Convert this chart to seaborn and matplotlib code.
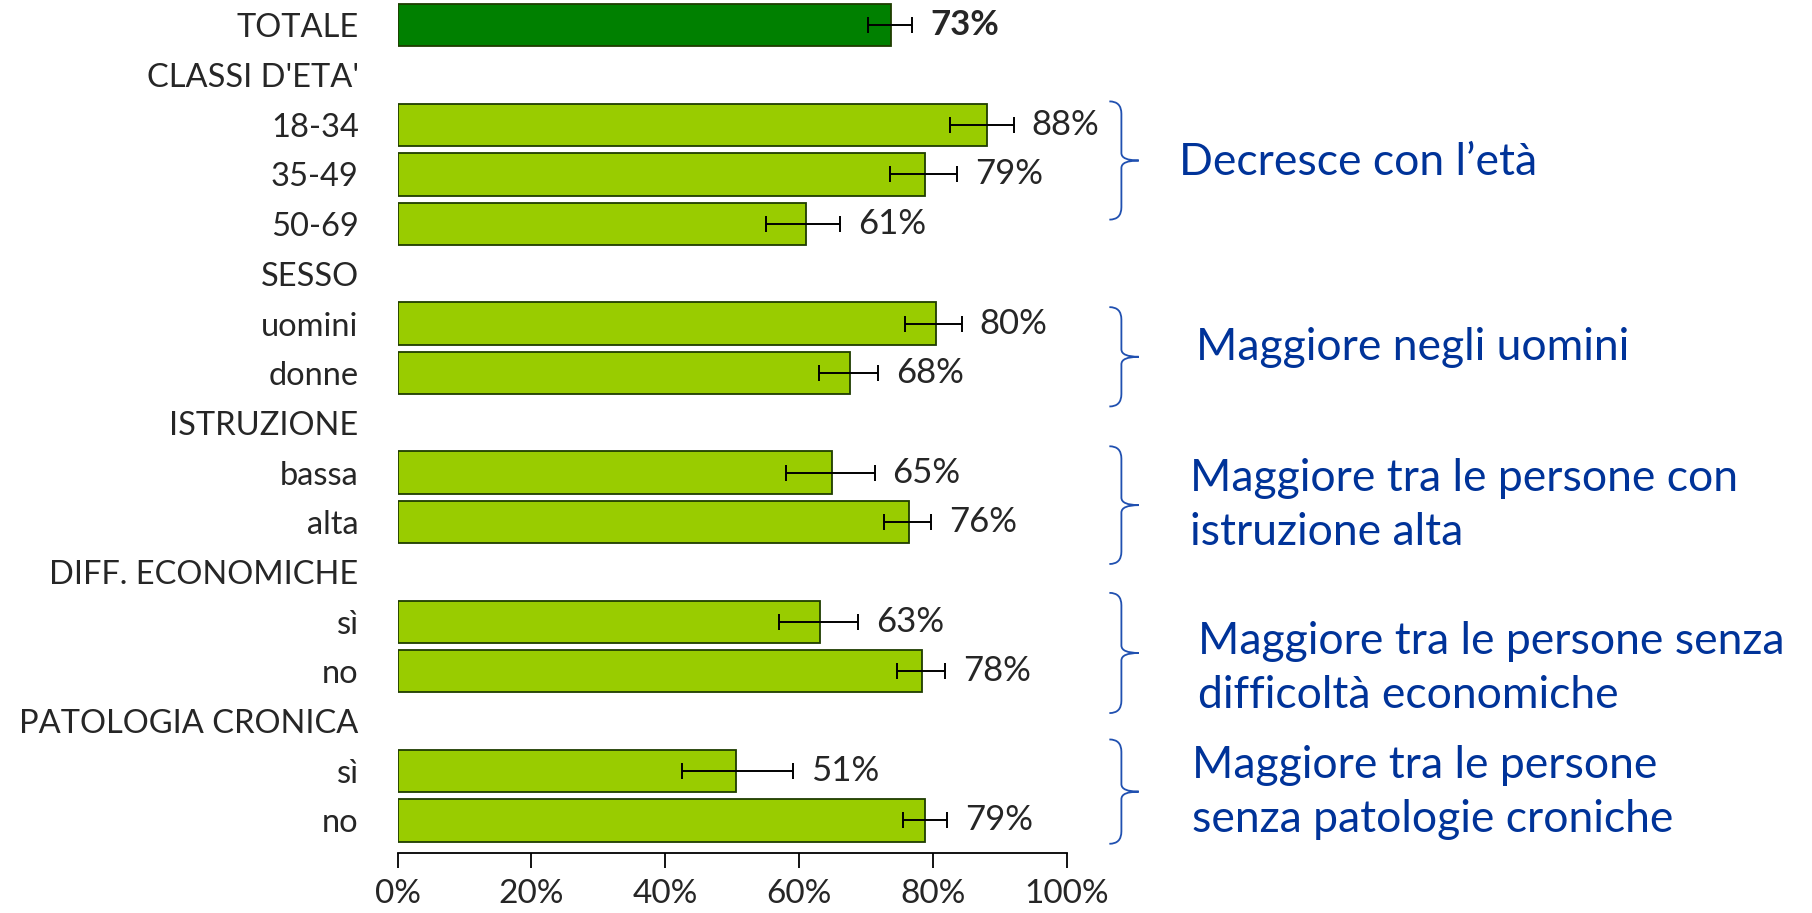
import numpy as np
import pandas as pd
import seaborn as sns
import matplotlib.pyplot as plt
from matplotlib.path import Path
from matplotlib.patches import PathPatch
import matplotlib.transforms as mtransforms

# rows of the chart, top to bottom (headers have no value)
row_keys = ["tot", "h_eta", "18-34", "35-49", "50-69", "h_sesso", "uomini", "donne",
            "h_istr", "bassa", "alta", "h_diff", "diff_si", "diff_no",
            "h_pat", "pat_si", "pat_no"]
row_labels = ["TOTALE", "CLASSI D'ETA'", "18-34", "35-49", "50-69", "SESSO", "uomini", "donne",
              "ISTRUZIONE", "bassa", "alta", "DIFF. ECONOMICHE", "sì", "no",
              "PATOLOGIA CRONICA", "sì", "no"]

bar_keys = ["tot", "18-34", "35-49", "50-69", "uomini", "donne", "bassa", "alta",
            "diff_si", "diff_no", "pat_si", "pat_no"]
values = [73.7, 88.1, 78.9, 61.0, 80.5, 67.7, 64.9, 76.5, 63.2, 78.4, 50.6, 78.9]
ci_low = [70.3, 82.6, 73.6, 55.1, 75.8, 63.0, 58.0, 72.7, 57.0, 74.6, 42.5, 75.5]
ci_high = [76.9, 92.1, 83.6, 66.1, 84.3, 71.8, 71.3, 79.8, 68.9, 81.9, 59.1, 82.2]
value_labels = ["73%", "88%", "79%", "61%", "80%", "68%", "65%", "76%", "63%", "78%", "51%", "79%"]

notes = ["Decresce con l\u2019età", "Maggiore negli uomini",
         "Maggiore tra le persone con\nistruzione alta",
         "Maggiore tra le persone senza\ndifficoltà economiche",
         "Maggiore tra le persone\nsenza patologie croniche"]
# brace extent in row units (hand drawn in the original)
brace_spans = [(1.53, 3.91), (5.67, 7.67), (8.47, 10.84), (11.42, 13.84), (14.37, 16.47)]
note_rows = [2.77, 6.49, 9.66, 12.94, 15.43]
note_x = [1.168, 1.193, 1.185, 1.197, 1.188]

sns.set_style("white")
plt.rcParams['font.family'] = ['Lato', 'DejaVu Sans']

df = pd.DataFrame({"key": bar_keys, "val": values})
colors = {k: ("#008000" if k == "tot" else "#99CC00") for k in bar_keys}

fig = plt.figure(figsize=(18.12, 9.13), dpi=100)
ax = fig.add_axes([0.2194, 0.066, 0.3692, 0.934])

sns.barplot(data=df, x="val", y="key", order=row_keys, hue="key", palette=colors,
            saturation=1, legend=False, width=0.85, edgecolor="#1f3d00", linewidth=1.3, ax=ax)

ypos = [row_keys.index(k) for k in bar_keys]
vals = np.array(values)
err = [vals - np.array(ci_low), np.array(ci_high) - vals]
ax.errorbar(vals, ypos, xerr=err, fmt="none", ecolor="black", elinewidth=1.4,
            capsize=6, capthick=1.4)

for y, hi, lab, k in zip(ypos, ci_high, value_labels, bar_keys):
    ax.annotate(lab, (hi, y), xytext=(13, 0), textcoords="offset points",
                va="center", ha="left", fontsize=25,
                fontweight="bold" if k == "tot" else "normal")

ax.set_xlim(0, 100)
ax.set_ylim(16.65, -0.51)
ax.set_xticks([0, 20, 40, 60, 80, 100])
ax.set_xticklabels([f"{t}%" for t in range(0, 101, 20)], fontsize=24)
ax.set_yticks(range(len(row_keys)))
ax.set_yticklabels(row_labels, fontsize=23.5)
ax.set_xlabel("")
ax.set_ylabel("")
for s in ["top", "right", "left"]:
    ax.spines[s].set_visible(False)
ax.spines["bottom"].set_color("black")
ax.spines["bottom"].set_linewidth(1.3)
ax.tick_params(axis="x", direction="out", length=11, width=1.3, color="black", pad=8, bottom=True)
ax.tick_params(axis="y", length=0, pad=28)

# curly braces + notes
trans = mtransforms.blended_transform_factory(ax.transAxes, ax.transData)
blue = "#003399"
for (y0, y1), txt, yr, xn in zip(brace_spans, notes, note_rows, note_x):
    xm, xe, xt = 1.082, 1.064, 1.108
    ym = (y0 + y1) / 2
    verts = [(xe, y0), (xm, y0), (xm, y0 + 0.25),
             (xm, ym - 0.15),
             (xm, ym), (xt, ym),
             (xm, ym), (xm, ym + 0.15),
             (xm, y1 - 0.25),
             (xm, y1), (xe, y1)]
    codes = [Path.MOVETO, Path.CURVE3, Path.CURVE3,
             Path.LINETO,
             Path.CURVE3, Path.CURVE3,
             Path.CURVE3, Path.CURVE3,
             Path.LINETO,
             Path.CURVE3, Path.CURVE3]
    ax.add_patch(PathPatch(Path(verts, codes), transform=trans, fill=False,
                           edgecolor="#2050b0", linewidth=1.3, clip_on=False))
    ax.text(xn, yr, txt, transform=trans, color=blue, fontsize=32, va="center",
            ha="left", linespacing=1.4)

fig.savefig("out.png", dpi=100)
